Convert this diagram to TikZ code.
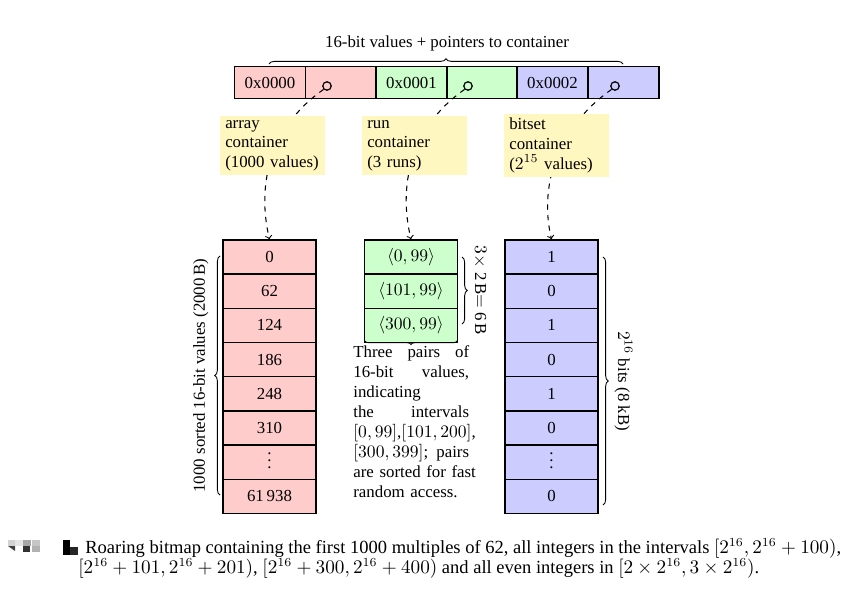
\documentclass[tikz,border=0pt]{standalone}
\usepackage{fontspec}
\setmainfont{Liberation Serif}
\usetikzlibrary{decorations.pathreplacing}
\definecolor{arrfill}{HTML}{FFCCCC}
\definecolor{runfill}{HTML}{CCFFCC}
\definecolor{bitfill}{HTML}{CCCCFF}
\definecolor{notefill}{HTML}{FFF7BF}
\newcommand{\celldots}{\raisebox{-3.5pt}[0pt][0pt]{$\vdots$}}
\newcommand{\fullline}[1]{\leavevmode\hbox to \linewidth{#1}}
\begin{document}
\begin{tikzpicture}[x=0.57pt,y=-0.57pt,font=\fontsize{9.6}{11.2}\selectfont,
  cell/.style={draw,line width=0.8pt,minimum width=53pt,minimum height=19.5pt,inner sep=0pt},
  keycell/.style={draw,line width=0.8pt,minimum width=40.4pt,minimum height=18.2pt,inner sep=0pt},
  ptr/.style={circle,draw,line width=0.7pt,minimum size=4.8pt,inner sep=0pt},
  note/.style={fill=notefill,anchor=north west,text width=54pt,align=left,inner xsep=2.8pt,inner ysep=2.2pt},
  link/.style={dashed,->,line width=0.6pt},
  brc/.style={decorate,decoration={brace,amplitude=3pt},line width=0.5pt},
  captext/.style={anchor=base west,inner sep=0pt,font=\fontsize{10.55}{12.5}\selectfont}]
\useasboundingbox (0,0) rectangle (847,597);

\node (title) at (447,43) {16-bit values + pointers to container};
\draw[brc] (269,64) -- (623,64);

\foreach \k/\c/\x/\px [count=\i from 0] in {0x0000/arrfill/270/327,0x0001/runfill/411.5/468,0x0002/bitfill/552.5/615} {
  \node[keycell,fill=\c] (k\i) at (\x,82.5) {\k};
  \node[keycell,fill=\c] (q\i) at (\x+71,82.5) {};
  \node[ptr] (p\i) at (\px,86) {};
}

% containers
\foreach \v [count=\i from 0] in {0,62,124,186,248,310,\celldots,61\,938}
  \node[cell,fill=arrfill] (a\i) at (269.5,257+34.2*\i) {\v};
\foreach \v [count=\i from 0] in {{$\langle 0,99\rangle$},{$\langle 101,99\rangle$},{$\langle 300,99\rangle$}}
  \node[cell,fill=runfill] (r\i) at (411,257+34.2*\i) {\v};
\foreach \v [count=\i from 0] in {1,0,1,0,1,0,\celldots,0}
  \node[cell,fill=bitfill] (b\i) at (551.5,257+34.2*\i) {\v};

\draw[link] (p0.225) .. controls +(-57,40) and +(-12,-50) .. (a0.north);
\draw[link] (p1.225) .. controls +(-57,40) and +(-12,-50) .. (r0.north);
\draw[link] (p2.225) .. controls +(-57,40) and +(-12,-50) .. (b0.north);

\node[note] (arrnote) at (220,116) {array\\container\\\mbox{(1000 values)}};
\node[note] (runnote) at (362,116) {run\\container\\(3 runs)};
\node[note] (bitnote) at (504,114) {bitset\\container\\\mbox{($2^{15}$ values)}};

% sizes
\draw[brc] (220,495) -- (220,256) node[midway,left=3pt,rotate=90,anchor=south] {1000 sorted 16-bit values (2000\,B)};
\draw[brc] (462,257) -- (462,324) node[midway,right=3pt,rotate=-90,anchor=south] {$3\times$ 2\,B$=$ 6\,B};
\draw[brc] (603,257) -- (603,505) node[midway,right=3pt,rotate=-90,anchor=south] {$2^{16}$ bits (8 kB)};
\draw[decorate,decoration={brace,amplitude=2pt},line width=0.5pt] (457,341) -- (365,341);

\node[anchor=north west,text width=66pt,align=left,inner sep=0pt,font=\fontsize{9.6}{11.4}\selectfont] (runtext) at (353,345) {%
\fullline{Three\hfill pairs\hfill of}\\\fullline{16-bit\hfill values,}\\indicating\\\fullline{the\hfill intervals}\\%
\fullline{$[0,99]$,\hfill$[101,200]$,}\\\fullline{$[300,399]$;\hfill pairs}\\\mbox{are sorted for fast}\\random access.};

% caption
\fill[gray!35] (8,540) rectangle (15,546);
\fill[gray!20] (15,540) rectangle (23,546);
\fill[gray!70] (23,540) rectangle (31,546);
\fill[gray!45] (32,540) rectangle (40,546);
\fill[black!75] (8,546) -- (15,546) -- (15,551) -- cycle;
\fill[black!80] (23,546) rectangle (30,552);
\fill[gray!60] (32,546) rectangle (40,552);
\fill[black] (63,540) rectangle (70,555);
\fill[black!85] (70,547) rectangle (78,555);
\node[captext] (cap1) at (85,553) {Roaring bitmap containing the first 1000 multiples of 62, all integers in the intervals $[2^{16},2^{16}+100)$,};
\node[captext] (cap2) at (78,573) {$[2^{16}+101,2^{16}+201)$, $[2^{16}+300,2^{16}+400)$ and all even integers in $[2\times 2^{16},3\times 2^{16})$.};
\end{tikzpicture}
\end{document}
